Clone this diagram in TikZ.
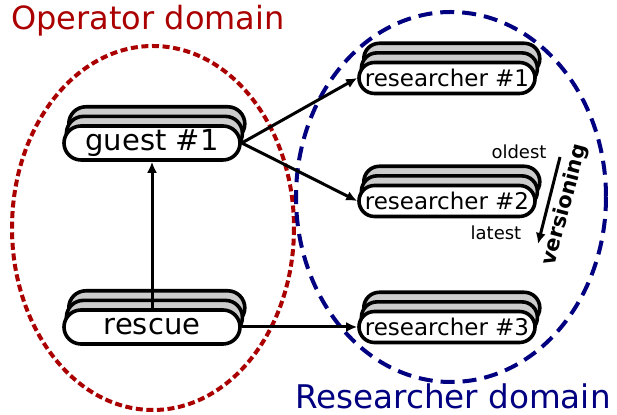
\documentclass[tikz,border=0pt]{standalone}
\usepackage{fontspec}
\setmainfont{DejaVu Sans}
\usetikzlibrary{arrows.meta, shapes.misc, shadows}
\definecolor{opRed}{RGB}{170,0,0}
\definecolor{resBlue}{RGB}{0,0,128}

\begin{document}
\begin{tikzpicture}[
    x=0.5pt, y=-0.5pt,
    stapel/.style={
        rounded rectangle,
        draw=black,
        line width=1.8pt,
        fill=white,
        inner sep=0pt,
        copy shadow={shadow xshift=2.4pt, shadow yshift=9.6pt, fill=gray!40, draw=black, line width=1.8pt},
        copy shadow={shadow xshift=1.2pt, shadow yshift=4.8pt, fill=gray!40, draw=black, line width=1.8pt}
    },
    gast/.style={
        stapel,
        minimum width=88pt,
        minimum height=17pt,
        font=\fontsize{14.5}{16}\selectfont
    },
    forscher/.style={
        stapel,
        minimum width=88pt,
        minimum height=15.5pt,
        font=\fontsize{11.5}{13}\selectfont
    },
    domaene/.style={
        line width=2pt
    },
    pfeil/.style={
        -{Latex[length=5.5pt, width=5pt]},
        line width=1.5pt
    },
    klein/.style={
        font=\fontsize{9}{10}\selectfont
    }
]
    \useasboundingbox (0,0) rectangle (617,415);

    % domains
    \draw[domaene, opRed, dash pattern=on 3.5pt off 1.8pt] (153,228) ellipse [x radius=141, y radius=182];
    \draw[domaene, resBlue, dash pattern=on 7pt off 4pt] (451,197) ellipse [x radius=155, y radius=185];
    \node[text=opRed, font=\fontsize{16}{18}\selectfont] (opLabel) at (148,21) {Operator domain};
    \node[text=resBlue, font=\fontsize{16.3}{18}\selectfont] (resLabel) at (453,396) {Researcher domain};

    % machines
    \node[gast] (guest) at (152,143) {guest \#1};
    \node[gast] (rescue) at (152,327) {rescue};
    \node[forscher] (res1) at (447,78) {researcher \#1};
    \node[forscher] (res2) at (447,201) {researcher \#2};
    \node[forscher] (res3) at (447,327) {researcher \#3};

    \draw[pfeil] (rescue.north) -- (guest.south);
    \draw[pfeil] (guest.east) -- (res1.west);
    \draw[pfeil] (guest.east) -- (res2.west);
    \draw[pfeil] (rescue.east) -- (res3.west);

    % versioning
    \node[klein] (oldest) at (519,152) {oldest};
    \node[klein] (latest) at (496,233) {latest};
    \coordinate (vStart) at (560,157);
    \coordinate (vEnd) at (538,244);
    \draw[pfeil] (vStart) -- (vEnd);
    \node[font=\fontsize{10.5}{12}\selectfont\bfseries, rotate=75, inner sep=1pt] (versioning) at (565,205) {versioning};

\end{tikzpicture}
\end{document}
